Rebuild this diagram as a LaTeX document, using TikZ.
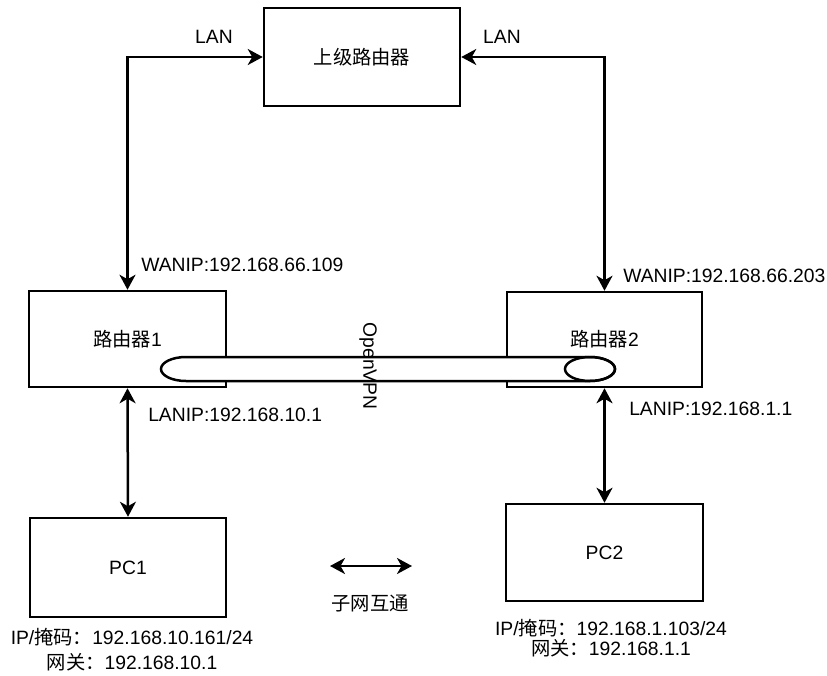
\documentclass[tikz,border=0pt]{standalone}
\usepackage{fontspec}
\setmainfont{Liberation Sans}
\newfontfamily\cjk{Noto Sans CJK SC}[Scale=1.0]
\usetikzlibrary{arrows.meta}
\newcommand\zh[1]{{\cjk #1}}
\begin{document}
\begin{tikzpicture}[x=1pt, y=-1pt, line width=2.5pt,
  font=\fontsize{19.3}{22}\selectfont,
  box/.style={draw, fill=white, inner sep=0pt, line width=2.5pt},
  lbl/.style={inner sep=0pt, anchor=west},
  txt/.style={inner sep=0pt},
  conn/.style={{Stealth[length=15pt, width=16pt, inset=4.5pt]}-{Stealth[length=15pt, width=16pt, inset=4.5pt]}}
]
\useasboundingbox (0,0) rectangle (827,675);

% boxes
\node[box, minimum width=196pt, minimum height=98pt] (top) at (362,57) {\zh{上级路由器}};
\node[box, minimum width=197pt, minimum height=96pt] (r1) at (127.5,339) {\zh{路由器}1};
\node[box, minimum width=195pt, minimum height=95pt] (r2) at (604.5,339.5) {\zh{路由器}2};
\node[box, minimum width=196pt, minimum height=99pt] (pc1) at (128,567.5) {PC1};
\node[box, minimum width=197pt, minimum height=97pt] (pc2) at (604.5,552.5) {PC2};

% OpenVPN tunnel (horizontal cylinder)
\draw[fill=white] (186,357) -- (590,357)
  arc[start angle=90, end angle=-90, x radius=25pt, y radius=12pt]
  -- (186,381)
  arc[start angle=270, end angle=90, x radius=25pt, y radius=12pt] -- cycle;
\draw (590,369) ellipse [x radius=25pt, y radius=12pt];
\node[txt, rotate=-90] (vpn) at (368,366) {OpenVPN};

% connectors
\draw[conn] (r1.north) |- (top.west);
\draw[conn] (r2.north) |- (top.east);
\draw[conn] (r1.south) -- (pc1.north);
\draw[conn] (r2.south) -- (pc2.north);

% labels
\node[txt] (lan1) at (214,37) {LAN};
\node[txt] (lan2) at (502,37) {LAN};
\node[lbl] (wan1) at (140,265) {WANIP:192.168.66.109};
\node[lbl] (wan2) at (622,276) {WANIP:192.168.66.203};
\node[lbl] (lanip1) at (147,415) {LANIP:192.168.10.1};
\node[lbl] (lanip2) at (628,409) {LANIP:192.168.1.1};

\node[txt, align=center, font=\fontsize{19.3}{25}\selectfont] (pc1info) at (132,650)
  {IP/\zh{掩码：}192.168.10.161/24\\ \zh{网关：}192.168.10.1};
\node[txt, align=center, font=\fontsize{19.3}{20.5}\selectfont] (pc2info) at (611,638)
  {IP/\zh{掩码：}192.168.1.103/24\\ \zh{网关：}192.168.1.1};

% subnet interconnection
\coordinate (s1) at (330,566);
\coordinate (s2) at (412,566);
\draw[conn] (s1) -- (s2);
\node[txt] (sub) at (370,603) {\zh{子网互通}};
\end{tikzpicture}
\end{document}
